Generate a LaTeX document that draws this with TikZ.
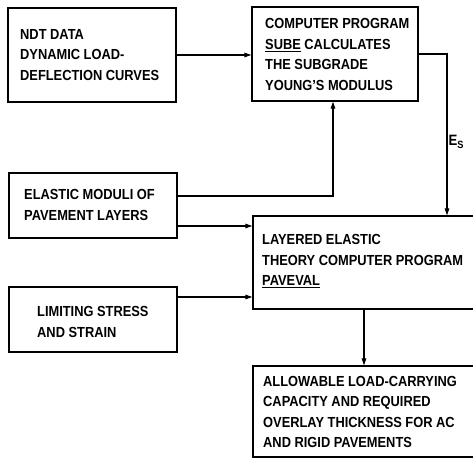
\documentclass[tikz,border=0pt]{standalone}
\usepackage{fontspec}
\setmainfont[FakeStretch=0.88]{Liberation Sans}
\usetikzlibrary{arrows.meta,calc}
\begin{document}
\begin{tikzpicture}[x=1pt,y=-1pt,
  box/.style={draw, line width=1.3pt, inner sep=0pt},
  txt/.style={anchor=west, align=left, inner sep=0pt, font=\fontsize{14.6}{20.5}\selectfont\bfseries},
  arr/.style={line width=1.2pt, -{Triangle[length=7pt,width=4.5pt]}}]
\useasboundingbox (0,0) rectangle (473,458);
\clip (0,0) rectangle (473,458);
% boxes
\node[box, minimum width=168pt, minimum height=94pt] (b1) at (92,55) {};
\node[box, minimum width=166pt, minimum height=94pt] (b2) at (335,54) {};
\node[box, minimum width=168pt, minimum height=65pt] (b3) at (93,205.5) {};
\node[box, minimum width=168pt, minimum height=65pt] (b5) at (93,319.5) {};
\node[box, minimum width=225pt, minimum height=93pt] (b4) at (365.5,262.5) {};
\node[box, minimum width=225pt, minimum height=91pt] (b6) at (365.5,411.5) {};
% texts
\node[txt] (t1) at (20,55) {NDT DATA\\DYNAMIC LOAD-\\DEFLECTION CURVES};
\node[txt] (t2) at (265,54.5) {COMPUTER PROGRAM\\\underline{SUBE} CALCULATES\\THE SUBGRADE\\YOUNG{\char"27}S MODULUS};
\node[txt] (t3) at (24,205) {ELASTIC MODULI OF\\PAVEMENT LAYERS};
\node[txt] (t5) at (37,322) {LIMITING STRESS\\AND STRAIN};
\node[txt] (t4) at (262,261) {LAYERED ELASTIC\\THEORY COMPUTER PROGRAM\\\underline{PAVEVAL}};
\node[txt] (t6) at (263,412) {ALLOWABLE LOAD-CARRYING\\CAPACITY AND REQUIRED\\OVERLAY THICKNESS FOR AC\\AND RIGID PAVEMENTS};
% connectors
\draw[arr] (b1.east) -- (b1.east -| b2.west);
\coordinate (esx) at (447,0);
\draw[arr] (b2.east) -| (b4.north -| esx);
\node[inner sep=0pt, font=\fontsize{15}{16}\selectfont\bfseries] (es) at (456,142) {E\raisebox{-0.45ex}{\fontsize{10.5}{12}\selectfont S}};
\coordinate (upx) at (333,0);
\draw[arr] (b3.east |- 0,196) -| (b2.south -| upx);
\draw[arr] (b3.east |- 0,226) -- (b4.west |- 0,226);
\draw[arr] (b5.east |- 0,297) -- (b4.west |- 0,297);
\coordinate (dnx) at (364,0);
\draw[arr] (b4.south -| dnx) -- (b6.north -| dnx);
\end{tikzpicture}
\end{document}
